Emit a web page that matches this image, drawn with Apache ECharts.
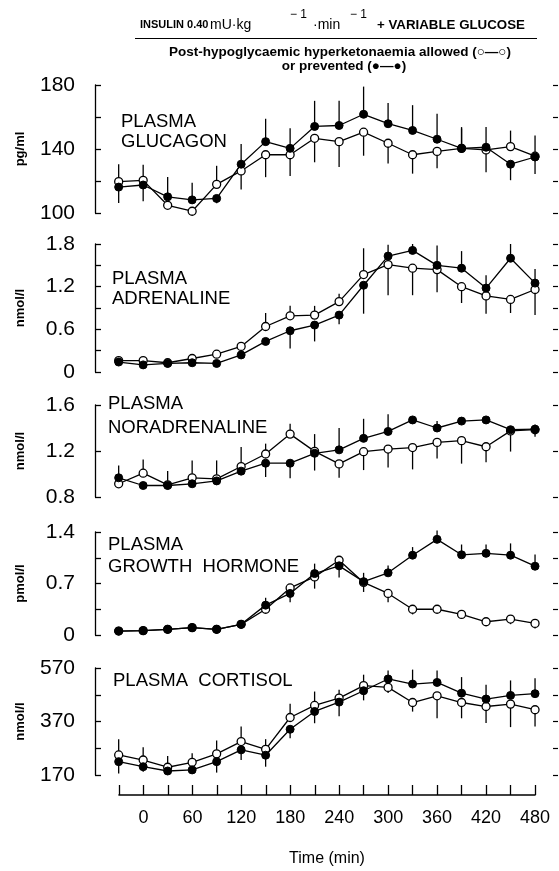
<!DOCTYPE html>
<html>
<head>
  <meta charset="UTF-8">
  <title>Plasma counter-regulatory hormones</title>
  <script src="https://cdn.jsdelivr.net/npm/echarts@6/dist/echarts.min.js"></script>
  <style>
    html, body { margin: 0; padding: 0; background: #fff; }
    #chart { width: 559px; height: 871px; }
  </style>
</head>
<body>
  <div id="chart"></div>
  <script>
    // sampling times (min)
    const times = [-30, 0, 30, 60, 90, 120, 150, 180, 210, 240, 270, 300, 330, 360, 390, 420, 450, 480];

    // glucagon (pg/ml)
    const glucagonAllowed = [119.6, 120.4, 104.8, 101.1, 117.9, 126.3, 136.4, 136.4, 146.7, 144.6, 150.5, 143.6, 136.4, 138.5, 140.4, 139.4, 141.5, 135.5];
    const glucagonPrevented = [116.2, 117.5, 110.1, 108.2, 109.1, 130.5, 144.6, 140.4, 154.1, 154.7, 161.7, 155.8, 151.6, 146.1, 140.4, 141.1, 130.5, 135];
    const glucagonAllowedSem = [10.9, 9.7, 2, 1, 11.6, 11.6, 14, 13.2, 15, 15.8, 14.7, 12.6, 11.8, 10.5, 12.4, 14, 10, 13];
    const glucagonPreventedSem = [9.9, 10.1, 12.4, 10.7, 3, 12.7, 14.3, 12.6, 16, 15.4, 17.3, 13, 15.8, 16, 13.3, 12.6, 10, 10.6];

    // adrenaline (nmol/l)
    const adrenalineAllowed = [0.16, 0.16, 0.13, 0.19, 0.25, 0.36, 0.64, 0.79, 0.80, 0.99, 1.37, 1.51, 1.46, 1.44, 1.20, 1.07, 1.02, 1.16];
    const adrenalinePrevented = [0.14, 0.10, 0.12, 0.13, 0.12, 0.24, 0.43, 0.58, 0.66, 0.80, 1.22, 1.63, 1.71, 1.50, 1.46, 1.18, 1.60, 1.25];
    const adrenalineAllowedSem = [0, 0, 0, 0, 0, 0, 0.19, 0.14, 0.13, 0.11, 0.37, 0.43, 0.38, 0.32, 0.23, 0.25, 0.19, 0.36];
    const adrenalinePreventedSem = [0, 0, 0, 0, 0, 0, 0.03, 0.25, 0.23, 0.13, 0.40, 0.16, 0.09, 0.28, 0.24, 0.18, 0.2, 0.2];

    // noradrenaline (nmol/l)
    const noradAllowed = [0.915, 1.007, 0.906, 0.967, 0.958, 1.065, 1.174, 1.347, 1.197, 1.088, 1.194, 1.217, 1.23, 1.275, 1.29, 1.237, 1.375, 1.385];
    const noradPrevented = [0.967, 0.90, 0.90, 0.915, 0.94, 1.025, 1.094, 1.094, 1.18, 1.21, 1.31, 1.37, 1.47, 1.40, 1.46, 1.47, 1.385, 1.39];
    const noradAllowedSem = [0.02, 0.12, 0.12, 0.15, 0.16, 0.17, 0.09, 0.09, 0.15, 0.12, 0.16, 0.16, 0.19, 0.14, 0.20, 0.135, 0.18, 0.06];
    const noradPreventedSem = [0.106, 0.02, 0.02, 0.02, 0.02, 0.01, 0.12, 0.13, 0.15, 0.19, 0.17, 0.15, 0.02, 0.06, 0.02, 0.02, 0.02, 0.04];

    // growth hormone (pmol/l)
    const ghAllowed = [0.054, 0.059, 0.077, 0.10, 0.077, 0.145, 0.35, 0.64, 0.79, 1.016, 0.715, 0.565, 0.35, 0.35, 0.28, 0.18, 0.217, 0.158];
    const ghPrevented = [0.054, 0.059, 0.077, 0.10, 0.077, 0.145, 0.406, 0.565, 0.835, 0.94, 0.725, 0.845, 1.085, 1.30, 1.09, 1.11, 1.085, 0.935];
    const ghAllowedSem = [0, 0, 0, 0, 0, 0.05, 0.03, 0.03, 0.16, 0.03, 0.13, 0.12, 0.07, 0.04, 0.05, 0.04, 0.07, 0.07];
    const ghPreventedSem = [0, 0, 0, 0, 0, 0, 0.1, 0.12, 0.135, 0.16, 0.12, 0.1, 0.11, 0.12, 0.14, 0.12, 0.16, 0.16];

    // cortisol (nmol/l)
    const cortAllowed = [245, 226, 199, 217.5, 249, 295, 266, 385, 430, 457.5, 504, 497.5, 441, 466, 441, 426, 435, 414];
    const cortPrevented = [220, 201, 185, 189, 220, 264, 244, 341, 407.5, 442.5, 485, 529, 510, 516, 476, 454, 467.5, 474];
    const cortAllowedSem = [59, 48, 42, 34, 50, 56, 38, 51, 52, 31, 41, 21, 34, 84, 59, 62, 86, 63];
    const cortPreventedSem = [44, 19, 11, 8, 41, 38, 43, 34, 44, 53, 36, 32, 54, 45, 60, 53, 56, 58];

    // tick labels shown on each left axis
    const glucagonTicks = [100, 140, 180];
    const adrenalineTicks = [0, 0.6, 1.2, 1.8];
    const noradTicks = [0.8, 1.2, 1.6];
    const ghTicks = [0, 0.7, 1.4];
    const cortTicks = [170, 370, 570];
    const timeTicks = [0, 60, 120, 180, 240, 300, 360, 420, 480];

    const FONT = 'Liberation Sans, Arial, Helvetica, sans-serif';

    const panels = [
      { title: 'PLASMA\nGLUCAGON', unit: 'pg/ml', top: 85, height: 128, min: 100, max: 180, interval: 20, ticks: glucagonTicks,
        a: glucagonAllowed, p: glucagonPrevented, aSem: glucagonAllowedSem, pSem: glucagonPreventedSem, tx: 121, ty: 112, lh: 20 },
      { title: 'PLASMA\nADRENALINE', unit: 'nmol/l', top: 244, height: 128, min: 0, max: 1.8, interval: 0.3, ticks: adrenalineTicks,
        a: adrenalineAllowed, p: adrenalinePrevented, aSem: adrenalineAllowedSem, pSem: adrenalinePreventedSem, tx: 112, ty: 269, lh: 20 },
      { title: 'PLASMA\nNORADRENALINE', unit: 'nmol/l', top: 405, height: 92, min: 0.8, max: 1.6, interval: 0.4, ticks: noradTicks,
        a: noradAllowed, p: noradPrevented, aSem: noradAllowedSem, pSem: noradPreventedSem, tx: 108, ty: 392, lh: 24 },
      { title: 'PLASMA\nGROWTH  HORMONE', unit: 'pmol/l', top: 532, height: 103, min: 0, max: 1.4, interval: 0.35, ticks: ghTicks,
        a: ghAllowed, p: ghPrevented, aSem: ghAllowedSem, pSem: ghPreventedSem, tx: 108, ty: 534, lh: 22 },
      { title: 'PLASMA  CORTISOL', unit: 'nmol/l', top: 668, height: 107, min: 170, max: 570, interval: 100, ticks: cortTicks,
        a: cortAllowed, p: cortPrevented, aSem: cortAllowedSem, pSem: cortPreventedSem, tx: 113, ty: 671, lh: 20 }
    ];

    function hasTick(list, v) {
      return list.some(t => Math.abs(t - v) < 1e-6);
    }
    function fmt(v) {
      return String(Math.round(v * 100) / 100);
    }

    // error bar ends: bar points away from the other group
    function barData(vals, other, sem) {
      return times.map((t, i) => {
        const dir = vals[i] >= other[i] ? 1 : -1;
        return [t, vals[i], vals[i] + dir * sem[i]];
      });
    }
    function renderBar(params, api) {
      const p1 = api.coord([api.value(0), api.value(1)]);
      const p2 = api.coord([api.value(0), api.value(2)]);
      return {
        type: 'line',
        shape: { x1: p1[0], y1: p1[1], x2: p2[0], y2: p2[1] },
        style: { stroke: '#000', lineWidth: 1.3 }
      };
    }

    const grid = [], xAxis = [], yAxis = [], series = [], graphic = [];

    panels.forEach((pn, k) => {
      grid.push({ left: 95, right: 6, top: pn.top, height: pn.height });
      xAxis.push({ gridIndex: k, type: 'value', min: -59, max: 502, show: false });
      yAxis.push({
        gridIndex: k, type: 'value', min: pn.min, max: pn.max, interval: pn.interval,
        name: pn.unit, nameLocation: 'middle', nameGap: 68,
        nameTextStyle: { fontFamily: FONT, fontSize: 13, fontWeight: 'bold', color: '#000' },
        axisLine: { show: true, onZero: false, lineStyle: { color: '#000', width: 1.3 } },
        axisTick: { show: true, inside: true, length: 6, lineStyle: { color: '#000', width: 1.3 } },
        axisLabel: {
          margin: 20, fontFamily: FONT, fontSize: 21, color: '#000',
          formatter: v => hasTick(pn.ticks, v) ? fmt(v) : ''
        },
        splitLine: { show: false }
      });
      yAxis.push({
        gridIndex: k, type: 'value', position: 'right', min: pn.min, max: pn.max, interval: pn.interval,
        axisLine: { show: false, onZero: false },
        axisTick: { show: true, length: 5, lineStyle: { color: '#000', width: 1.2 } },
        axisLabel: { show: false },
        splitLine: { show: false }
      });
      const yi = k * 2;
      series.push(
        { type: 'custom', xAxisIndex: k, yAxisIndex: yi, renderItem: renderBar, data: barData(pn.a, pn.p, pn.aSem), z: 2 },
        { type: 'custom', xAxisIndex: k, yAxisIndex: yi, renderItem: renderBar, data: barData(pn.p, pn.a, pn.pSem), z: 2 },
        {
          name: 'allowed', type: 'line', xAxisIndex: k, yAxisIndex: yi, z: 3,
          data: times.map((t, i) => [t, pn.a[i]]),
          symbol: 'circle', symbolSize: 8, showAllSymbol: true,
          lineStyle: { color: '#000', width: 1.3 },
          itemStyle: { color: '#fff', borderColor: '#000', borderWidth: 1.3 }
        },
        {
          name: 'prevented', type: 'line', xAxisIndex: k, yAxisIndex: yi, z: 4,
          data: times.map((t, i) => [t, pn.p[i]]),
          symbol: 'circle', symbolSize: 8, showAllSymbol: true,
          lineStyle: { color: '#000', width: 1.3 },
          itemStyle: { color: '#000', borderColor: '#000', borderWidth: 1 }
        }
      );
      graphic.push({
        type: 'text', left: pn.tx, top: pn.ty, z: 10,
        style: { text: pn.title, font: '18.5px ' + FONT, fill: '#000', lineHeight: pn.lh }
      });
    });

    // shared time axis at the bottom
    grid.push({ left: 119, right: 24, top: 794, height: 1 });
    xAxis.push({
      gridIndex: 5, type: 'value', min: -30, max: 480, interval: 30,
      name: 'Time (min)', nameLocation: 'middle', nameGap: 56,
      nameTextStyle: { fontFamily: FONT, fontSize: 16, color: '#000' },
      axisLine: { show: true, onZero: false, lineStyle: { color: '#000', width: 1.6 } },
      axisTick: { show: true, inside: true, length: 10, lineStyle: { color: '#000', width: 1.3 } },
      axisLabel: {
        margin: 14, fontFamily: FONT, fontSize: 18, color: '#000',
        formatter: v => hasTick(timeTicks, v) ? String(v) : ''
      },
      splitLine: { show: false }
    });
    yAxis.push({ gridIndex: 5, type: 'value', show: false });

    // heading
    const head = (text, x, y, font) => ({
      type: 'text', x, y,
      style: { text, font: font + ' ' + FONT, fill: '#000', verticalAlign: 'middle' }
    });
    graphic.push(
      head('INSULIN 0.40', 140, 25, 'bold 11px'),
      head('mU·kg', 210, 25, '14px'),
      head('− 1', 290, 15, '12px'),
      head('·min', 313, 25, '14px'),
      head('− 1', 350, 15, '12px'),
      head('+ VARIABLE GLUCOSE', 377, 25, 'bold 13.3px'),
      { type: 'line', shape: { x1: 135, y1: 38.5, x2: 537, y2: 38.5 }, style: { stroke: '#000', lineWidth: 1.2 } },
      {
        type: 'text', x: 340, y: 52,
        style: { text: 'Post-hypoglycaemic hyperketonaemia allowed (○—○)', font: 'bold 13.5px ' + FONT, fill: '#000', align: 'center', verticalAlign: 'middle' }
      },
      {
        type: 'text', x: 344, y: 66,
        style: { text: 'or prevented (●—●)', font: 'bold 13.5px ' + FONT, fill: '#000', align: 'center', verticalAlign: 'middle' }
      }
    );

    const chart = echarts.init(document.getElementById('chart'));
    chart.setOption({
      animation: false,
      backgroundColor: '#fff',
      grid, xAxis, yAxis, series, graphic
    });
  </script>
</body>
</html>
